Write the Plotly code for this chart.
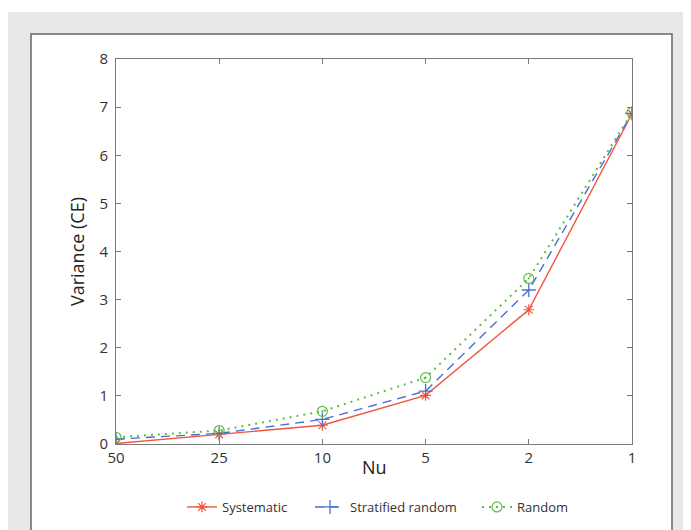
import plotly.graph_objects as go

nu_labels = ["50", "25", "10", "5", "2", "1"]
systematic = [0.01, 0.20, 0.39, 1.01, 2.79, 6.86]
stratified = [0.10, 0.22, 0.51, 1.10, 3.20, 6.87]
random_s = [0.14, 0.28, 0.68, 1.38, 3.44, 6.89]

# page body has an 8px margin, so work in figure coordinates = page - 8
OFF = 8
W, H = 691 - OFF, 530 - OFF
L, R, T, B = 116 - OFF, 632 - OFF, 59 - OFF, 444 - OFF

def px(x):
    return (x - OFF - L) / (R - L)

def py(y):
    return (B - (y - OFF)) / (B - T)

fig = go.Figure()
fig.add_trace(go.Scatter(x=nu_labels, y=systematic, name="Systematic", mode="lines+markers",
                         line=dict(color="#f2553d", width=1.4), legend="legend",
                         marker=dict(symbol="asterisk-open", size=9, color="#f2553d", line=dict(width=1.2, color="#f2553d"))))
fig.add_trace(go.Scatter(x=nu_labels, y=stratified, name="Stratified random", mode="lines+markers",
                         line=dict(color="#4a6fd0", width=1.4, dash="9px,6px"), legend="legend2",
                         marker=dict(symbol="cross-thin-open", size=10, color="#4a6fd0", line=dict(width=1.3, color="#4a6fd0"))))
fig.add_trace(go.Scatter(x=nu_labels, y=random_s, name="Random", mode="lines+markers",
                         line=dict(color="#5cbf45", width=2, dash="2px,5px"), legend="legend3",
                         marker=dict(symbol="circle-open-dot", size=10, color="#5cbf45", line=dict(width=1.2, color="#5cbf45"))))

fig.add_shape(type="rect", xref="paper", yref="paper", x0=px(8), x1=px(683), y0=py(12), y1=py(545),
              fillcolor="#e8e8e8", line=dict(width=0), layer="below")
fig.add_shape(type="rect", xref="paper", yref="paper", x0=px(31), x1=px(672), y0=py(34), y1=py(560),
              fillcolor="white", line=dict(width=1.5, color="#666666"), layer="below")

axis_common = dict(showline=True, linecolor="#7a7a7a", linewidth=1, mirror="ticks",
                   ticks="inside", ticklen=5, tickcolor="#7a7a7a", showgrid=False, zeroline=False,
                   automargin=False, tickfont=dict(size=15, color="#333333"))

fig.update_xaxes(type="category", categoryorder="array", categoryarray=nu_labels, range=[0, 5],
                 **axis_common)
fig.update_yaxes(range=[0, 8], dtick=1, ticklabelstandoff=4,
                 title=dict(text="Variance (CE)", font=dict(size=18, color="#222222"), standoff=10), **axis_common)

fig.add_annotation(text="Nu", xref="paper", yref="paper", x=0.5, y=py(467), xanchor="center",
                   yanchor="middle", showarrow=False, font=dict(size=18, color="#222222"))

leg_common = dict(orientation="h", xanchor="left", yanchor="middle", y=py(507),
                  font=dict(size=13, color="#333333"), bgcolor="rgba(0,0,0,0)")
fig.update_layout(width=W, height=H, margin=dict(l=L, r=W - R, t=T, b=H - B, autoexpand=False),
                  paper_bgcolor="white", plot_bgcolor="rgba(0,0,0,0)",
                  font=dict(family="Open Sans", color="#333333"),
                  showlegend=True,
                  legend=dict(x=px(182), **leg_common),
                  legend2=dict(x=px(310), **leg_common),
                  legend3=dict(x=px(477), **leg_common))

fig.write_html("out.html")
